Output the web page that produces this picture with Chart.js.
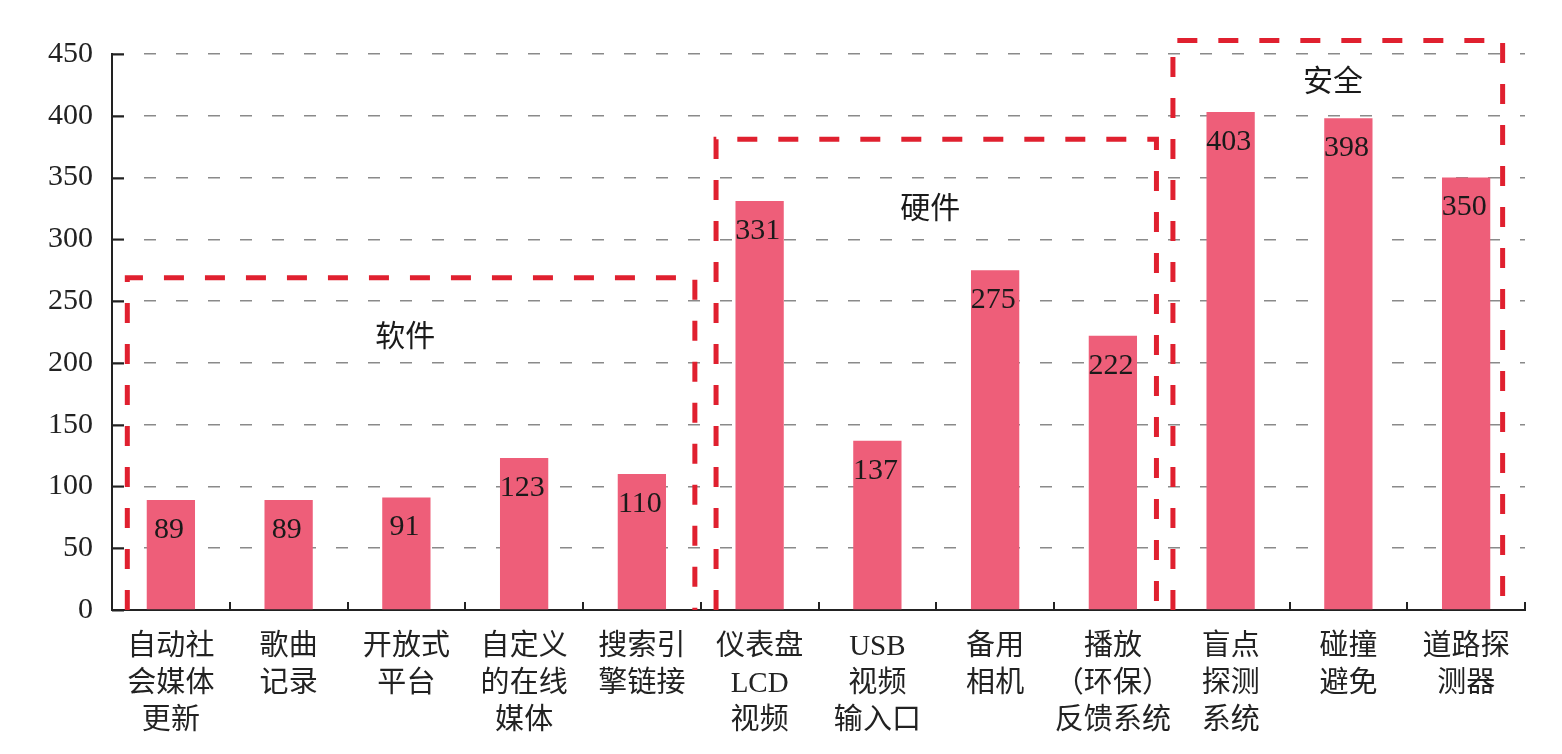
<!DOCTYPE html>
<html>
<head>
<meta charset="utf-8">
<script src="https://cdn.jsdelivr.net/npm/chart.js@4/dist/chart.umd.min.js"></script>
<style>
  html, body { margin: 0; padding: 0; background: #fff; }
  #wrap { width: 1562px; height: 754px; }
</style>
</head>
<body>
<div id="wrap"><canvas id="grafico"></canvas></div>
<script>
const categorias = [
  ["自动社", "会媒体", "更新"],
  ["歌曲", "记录"],
  ["开放式", "平台"],
  ["自定义", "的在线", "媒体"],
  ["搜索引", "擎链接"],
  ["仪表盘", "LCD", "视频"],
  ["USB", "视频", "输入口"],
  ["备用", "相机"],
  ["播放", "（环保）", "反馈系统"],
  ["盲点", "探测", "系统"],
  ["碰撞", "避免"],
  ["道路探", "测器"],
];
const valores = [89, 89, 91, 123, 110, 331, 137, 275, 222, 403, 398, 350];
const ticksY = [0, 50, 100, 150, 200, 250, 300, 350, 400, 450];

// grupos (caixas tracejadas): nome, primeira e ultima categoria, altura
const grupoNomes = ["软件", "硬件", "安全"];
const grupoInicio = [-0.37, 4.63, 8.51];
const grupoFim = [4.45, 8.37, 11.31];
const grupoTopo = [269, 381, 461];
const grupoRotuloX = [1.99, 6.45, 9.87];
const grupoRotuloY = [220, 323.5, 426.5];

const serif = "'Liberation Serif', 'Noto Sans CJK SC', serif";
const corBarra = "#ee5e79";
const corCaixa = "#e0202f";

const pluginDesenho = {
  id: "desenho",
  afterDatasetsDraw(chart) {
    const { ctx, scales } = chart;
    const x = scales.x;
    const y = scales.y;
    const meta = chart.getDatasetMeta(0);

    // marcas internas do eixo y
    ctx.save();
    ctx.strokeStyle = "#222";
    ctx.lineWidth = 2;
    ticksY.forEach((v) => {
      const py = Math.round(y.getPixelForValue(v)) + 0.5;
      ctx.beginPath();
      ctx.moveTo(x.left, py);
      ctx.lineTo(x.left + 12, py);
      ctx.stroke();
    });
    // marcas do eixo x entre categorias
    for (let i = 0; i <= categorias.length; i++) {
      const px = Math.round(x.getPixelForValue(i - 0.5));
      ctx.beginPath();
      ctx.moveTo(px, y.bottom);
      ctx.lineTo(px, y.bottom - 8);
      ctx.stroke();
    }
    ctx.restore();

    // rotulos de valor
    ctx.save();
    ctx.font = "30px " + serif;
    ctx.fillStyle = "#1a1a1a";
    ctx.textAlign = "center";
    ctx.textBaseline = "middle";
    meta.data.forEach((bar, i) => {
      ctx.fillText(String(valores[i]), bar.x - 2, bar.y + 30);
    });
    ctx.restore();

    // caixas tracejadas dos grupos
    ctx.save();
    ctx.strokeStyle = corCaixa;
    ctx.lineWidth = 5;
    ctx.setLineDash([20, 21]);
    grupoNomes.forEach((nome, g) => {
      const x0 = x.getPixelForValue(grupoInicio[g]);
      const x1 = x.getPixelForValue(grupoFim[g]);
      const yt = y.getPixelForValue(grupoTopo[g]);
      const yb = y.bottom;
      ctx.beginPath();
      ctx.moveTo(x0, yb);
      ctx.lineTo(x0, yt);
      ctx.lineTo(x1, yt);
      ctx.lineTo(x1, yb);
      ctx.stroke();
    });
    ctx.setLineDash([]);
    ctx.font = "30px " + serif;
    ctx.fillStyle = "#1a1a1a";
    ctx.textAlign = "center";
    ctx.textBaseline = "middle";
    grupoNomes.forEach((nome, g) => {
      ctx.fillText(
        nome,
        x.getPixelForValue(grupoRotuloX[g]),
        y.getPixelForValue(grupoRotuloY[g]),
      );
    });
    ctx.restore();
  },
};

new Chart(document.getElementById("grafico"), {
  type: "bar",
  data: {
    labels: categorias,
    datasets: [
      {
        data: valores,
        backgroundColor: corBarra,
        categoryPercentage: 1,
        barPercentage: 0.41,
      },
    ],
  },
  options: {
    responsive: true,
    maintainAspectRatio: false,
    animation: false,
    layout: { padding: { top: 54, right: 37, left: 0, bottom: 0 } },
    plugins: { legend: { display: false }, tooltip: { enabled: false } },
    scales: {
      x: {
        grid: { display: false, drawTicks: false },
        border: { display: true, color: "#222", width: 2 },
        ticks: {
          color: "#222",
          padding: 19,
          maxRotation: 0,
          autoSkip: false,
          font: { family: serif, size: 29, lineHeight: 1.27 },
        },
        afterFit(scale) {
          scale.height = 144;
        },
      },
      y: {
        min: 0,
        max: 450,
        afterBuildTicks(scale) {
          scale.ticks = ticksY.map((v) => ({ value: v }));
        },
        grid: {
          color: "#8a8a8a",
          lineWidth: 1.5,
          drawTicks: false,
        },
        border: { display: true, color: "#222", width: 2, dash: [12, 20], dashOffset: -31 },
        ticks: {
          color: "#222",
          padding: 19,
          font: { family: serif, size: 30 },
        },
        afterFit(scale) {
          scale.width = 112;
        },
      },
    },
  },
  plugins: [pluginDesenho],
});
</script>
</body>
</html>
